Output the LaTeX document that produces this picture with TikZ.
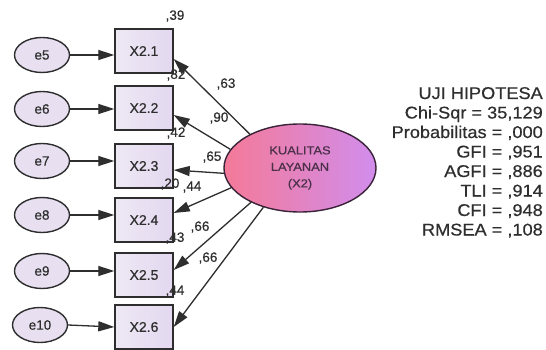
\documentclass[tikz,border=0pt]{standalone}
\usepackage{fontspec}
\setmainfont{Liberation Sans}[FakeBold=0.5]
\newfontfamily\fitfont{Liberation Sans}[FakeStretch=1.07,FakeBold=0.5]
\newfontfamily\latfont{Liberation Sans}[FakeStretch=1.12,FakeBold=0.5]
\usetikzlibrary{arrows.meta,shapes.geometric}
\definecolor{ink}{HTML}{2E2E2E}
\definecolor{boxfillA}{HTML}{EEE8F4}
\definecolor{boxfillB}{HTML}{E3D8F0}
\definecolor{efill}{HTML}{E8E0F1}
\definecolor{pinkL}{HTML}{F47A98}
\definecolor{violetR}{HTML}{D18DEC}
\definecolor{latborder}{HTML}{3A2238}
\definecolor{lattext}{HTML}{4A3048}
\begin{document}
\begin{tikzpicture}[x=1pt,y=-1pt,
  obs/.style={draw=ink,line width=1.4pt,left color=boxfillA,right color=boxfillB,
    minimum width=58pt,minimum height=44pt,inner sep=0pt,
    font=\fontsize{14}{16}\selectfont,text=ink},
  err/.style={ellipse,draw=ink,line width=1.4pt,fill=efill,minimum width=55pt,
    minimum height=35pt,inner sep=0pt,font=\fontsize{13.5}{16}\selectfont,text=ink},
  lat/.style={ellipse,draw=latborder,line width=1.4pt,left color=pinkL,right color=violetR,
    minimum width=152pt,minimum height=88pt,inner sep=0pt,align=center,
    font=\latfont\fontsize{11.5}{16.5}\selectfont,text=lattext},
  coef/.style={font=\fontsize{13.5}{16}\selectfont,text=ink,inner sep=0pt},
  arr/.style={draw=ink,line width=1.3pt,-{Triangle[length=16pt,width=10pt]}},
  fitline/.style={font=\fitfont\fontsize{17}{19}\selectfont,text=ink,anchor=base east,inner sep=0pt}
]
\useasboundingbox[fill=white] (0,0) rectangle (546,350);

% observed variables
\node[obs] (X21) at (144,51)  {X2.1};
\node[obs] (X22) at (144,108) {X2.2};
\node[obs] (X23) at (144,166) {X2.3};
\node[obs] (X24) at (144,220) {X2.4};
\node[obs] (X25) at (144,275) {X2.5};
\node[obs] (X26) at (144,327) {X2.6};

% error terms
\node[err] (e5)  at (42,55)  {e5};
\node[err] (e6)  at (42,109) {e6};
\node[err] (e7)  at (42,161) {e7};
\node[err] (e8)  at (42,215) {e8};
\node[err] (e9)  at (42,271) {e9};
\node[err] (e10) at (40,325) {e10};

% latent variable
\node[lat] (K) at (300,168) {KUALITAS\\LAYANAN\\(X2)};

% squared multiple correlations
\node[coef] (s1) at (175,16)  {,39};
\node[coef] (s2) at (176,75)  {,82};
\node[coef] (s3) at (176,133) {,42};
\node[coef] (s4) at (170,184) {,20};
\node[coef] (s5) at (175,238) {,43};
\node[coef] (s6) at (175,291) {,44};

% loadings
\node[coef] (l1) at (226,84)  {,63};
\node[coef] (l2) at (219,118) {,90};
\node[coef] (l3) at (212,157) {,65};
\node[coef] (l4) at (192,187) {,44};
\node[coef] (l5) at (200,227) {,66};
\node[coef] (l6) at (208,258) {,66};

% error arrows
\draw[arr] (e5.east)  -- (e5.east -| X21.west);
\draw[arr] (e6.east)  -- (e6.east -| X22.west);
\draw[arr] (e7.east)  -- (e7.east -| X23.west);
\draw[arr] (e8.east)  -- (e8.east -| X24.west);
\draw[arr] (e9.east)  -- (e9.east -| X25.west);
\draw[arr] (e10.east) -- (X26.west);

% loading arrows
\draw[arr] (K.146) -- ([yshift=-8pt]X21.east);
\draw[arr] (K.165) -- ([yshift=-7pt]X22.east);
\draw[arr] (K.184) -- ([yshift=-4pt]X23.east);
\draw[arr] (K.196) -- ([yshift=7pt]X24.east);
\draw[arr] (K.215) -- ([yshift=5pt]X25.east);
\draw[arr] (K.227) -- (X26.east);

% fit statistics
\node[fitline] (f1) at (543,99)  {UJI HIPOTESA};
\node[fitline] (f2) at (543,118.5) {Chi-Sqr = 35,129};
\node[fitline] (f3) at (543,138) {Probabilitas = ,000};
\node[fitline] (f4) at (543,157.5) {GFI = ,951};
\node[fitline] (f5) at (543,177) {AGFI = ,886};
\node[fitline] (f6) at (543,196.5) {TLI = ,914};
\node[fitline] (f7) at (543,216) {CFI = ,948};
\node[fitline] (f8) at (543,235.5) {RMSEA = ,108};
\end{tikzpicture}
\end{document}
